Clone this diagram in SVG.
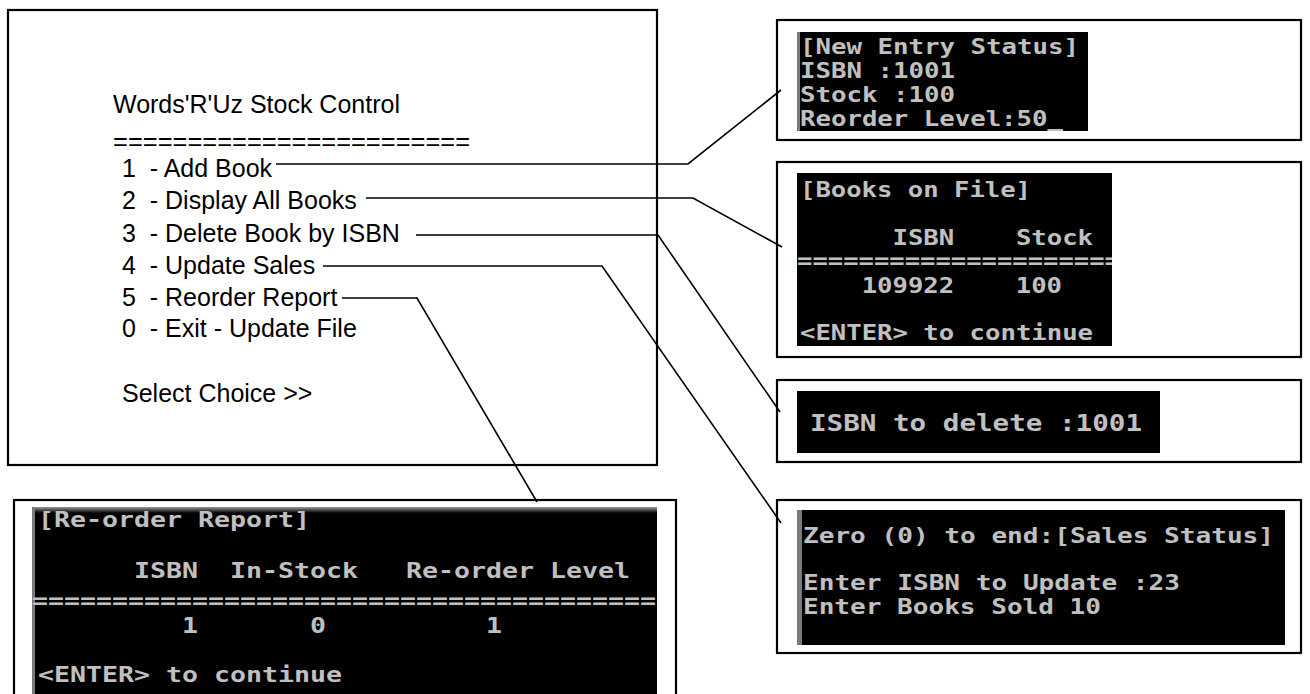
<svg xmlns="http://www.w3.org/2000/svg" width="1310" height="694" viewBox="0 0 1310 694">
<style>
.box{fill:#fff;stroke:#000;stroke-width:2.2}
.scr{fill:#000}
.menu{font-family:"Liberation Sans",Arial,sans-serif;font-size:25px;fill:#000;white-space:pre}
.term{font-family:"DejaVu Sans Mono","Liberation Mono",monospace;font-weight:bold;font-size:21.5px;fill:#c0c0c0;white-space:pre}
.link{fill:none;stroke:#000;stroke-width:1.6}
.stripe{fill:#7a7a7a}
</style>
<defs>
<clipPath id="clipB"><rect x="797" y="173" width="315" height="173"/></clipPath>
<clipPath id="clipE"><rect x="32" y="507" width="625" height="193"/></clipPath>
<linearGradient id="topbar" x1="0" y1="0" x2="0" y2="1">
<stop offset="0" stop-color="#9a9a9a"/><stop offset="1" stop-color="#000"/>
</linearGradient>
</defs>
<rect width="1310" height="694" fill="#fff"/>

<g id="menu" xml:space="preserve">
<rect class="box" x="8" y="10" width="649" height="455"/>
<text class="menu" x="113" y="113">Words'R'Uz Stock Control</text>
<text class="menu" x="113" y="150" textLength="357" lengthAdjust="spacingAndGlyphs">========================</text>
<text class="menu" x="122" y="177">1  - Add Book</text>
<text class="menu" x="122" y="209">2  - Display All Books</text>
<text class="menu" x="122" y="242">3  - Delete Book by ISBN</text>
<text class="menu" x="122" y="274">4  - Update Sales</text>
<text class="menu" x="122" y="306">5  - Reorder Report</text>
<text class="menu" x="122" y="337">0  - Exit - Update File</text>
<text class="menu" x="122" y="402">Select Choice &gt;&gt;</text>
</g>

<g id="new-entry" xml:space="preserve">
<rect class="box" x="777" y="20" width="524" height="120"/>
<rect class="scr" x="797" y="32" width="291" height="99"/>
<rect class="stripe" x="797" y="32" width="3" height="99"/>
<text class="term" x="800" y="54" textLength="279" lengthAdjust="spacingAndGlyphs">[New Entry Status]</text>
<text class="term" x="800" y="78" textLength="155" lengthAdjust="spacingAndGlyphs">ISBN :1001</text>
<text class="term" x="800" y="102" textLength="155" lengthAdjust="spacingAndGlyphs">Stock :100</text>
<text class="term" x="800" y="126" textLength="263" lengthAdjust="spacingAndGlyphs">Reorder Level:50_</text>
</g>

<g id="books-on-file" xml:space="preserve">
<rect class="box" x="777" y="162" width="524" height="195"/>
<rect class="scr" x="797" y="173" width="315" height="173"/>
<g clip-path="url(#clipB)">
<text class="term" x="800" y="197" textLength="231" lengthAdjust="spacingAndGlyphs">[Books on File]</text>
<text class="term" x="800" y="245" textLength="293" lengthAdjust="spacingAndGlyphs">      ISBN    Stock</text>
<text class="term" x="797" y="268" textLength="323" lengthAdjust="spacingAndGlyphs">=====================</text>
<text class="term" x="800" y="293" textLength="262" lengthAdjust="spacingAndGlyphs">    109922    100</text>
<text class="term" x="800" y="340" textLength="293" lengthAdjust="spacingAndGlyphs">&lt;ENTER&gt; to continue</text>
</g>
</g>

<g id="delete" xml:space="preserve">
<rect class="box" x="777" y="380" width="524" height="82"/>
<rect class="scr" x="797" y="391" width="363" height="62"/>
<text class="term" x="810" y="431" style="font-size:23px" textLength="332" lengthAdjust="spacingAndGlyphs">ISBN to delete :1001</text>
</g>

<g id="sales" xml:space="preserve">
<rect class="box" x="777" y="500" width="524" height="153"/>
<rect class="scr" x="797" y="510" width="488" height="135"/>
<rect class="stripe" x="797" y="510" width="5" height="135"/>
<text class="term" x="803" y="543" textLength="471" lengthAdjust="spacingAndGlyphs">Zero (0) to end:[Sales Status]</text>
<text class="term" x="803" y="590" textLength="377" lengthAdjust="spacingAndGlyphs">Enter ISBN to Update :23</text>
<text class="term" x="803" y="614" textLength="298" lengthAdjust="spacingAndGlyphs">Enter Books Sold 10</text>
</g>

<g id="reorder" xml:space="preserve">
<rect class="box" x="14" y="500" width="662" height="210"/>
<rect class="scr" x="32" y="507" width="625" height="193"/>
<rect x="32" y="507" width="625" height="6" fill="url(#topbar)"/>
<rect class="stripe" x="32" y="507" width="3" height="193"/>
<g clip-path="url(#clipE)">
<text class="term" x="38" y="527" textLength="272" lengthAdjust="spacingAndGlyphs">[Re-order Report]</text>
<text class="term" x="38" y="578" textLength="592" lengthAdjust="spacingAndGlyphs">      ISBN  In-Stock   Re-order Level</text>
<text class="term" x="32" y="608" textLength="640" lengthAdjust="spacingAndGlyphs">========================================</text>
<text class="term" x="38" y="633" textLength="464" lengthAdjust="spacingAndGlyphs">         1       0          1</text>
<text class="term" x="38" y="682" textLength="304" lengthAdjust="spacingAndGlyphs">&lt;ENTER&gt; to continue</text>
</g>
</g>

<g id="connectors">
<polyline class="link" points="276,164 688,164 781,90"/>
<polyline class="link" points="366,198 693,198 782,247"/>
<polyline class="link" points="416,235 658,235 780,412"/>
<polyline class="link" points="323,266 602,266 781,523"/>
<polyline class="link" points="342,298 417,298 537,502"/>
</g>
</svg>
